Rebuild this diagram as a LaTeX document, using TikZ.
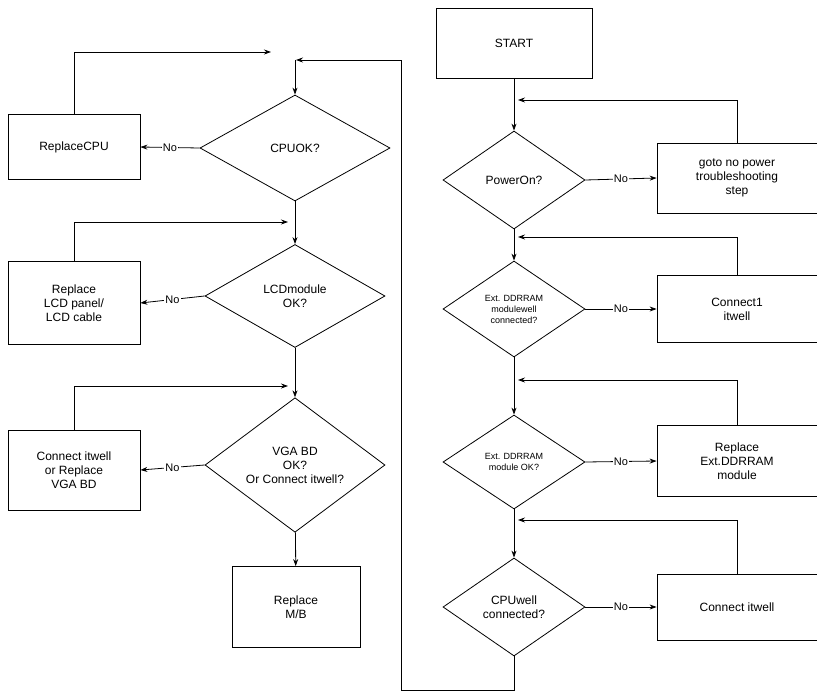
\documentclass[tikz,border=0pt]{standalone}
\usepackage{fontspec}
\setmainfont{Liberation Sans}
\usetikzlibrary{shapes.geometric,arrows.meta}
\begin{document}
\begin{tikzpicture}[x=1pt,y=-1pt,
 box/.style={draw,line width=0.8pt,align=center,font=\fontsize{12}{14}\selectfont,inner sep=0pt},
 dia/.style={draw,diamond,line width=0.8pt,align=center,font=\fontsize{12}{14}\selectfont,inner sep=0pt},
 sdia/.style={dia,font=\fontsize{9}{11}\selectfont},
 ar/.style={line width=0.8pt,-{Stealth[length=7pt,width=5pt]}},
 ln/.style={line width=0.8pt},
 no/.style={font=\fontsize{11}{13}\selectfont,inner sep=1pt,fill=white}]
\useasboundingbox (0,0) rectangle (817,693);
% right column
\node[box,minimum width=156pt,minimum height=70pt] (start) at (514,43) {START};
\node[dia,minimum width=142pt,minimum height=98pt] (d1) at (514,180) {PowerOn?};
\node[box,minimum width=160pt,minimum height=70pt] (b1) at (737,178) {goto no power\\troubleshooting\\step};
\node[sdia,minimum width=142pt,minimum height=96pt] (d2) at (514,309) {Ext. DDRRAM\\modulewell\\connected?};
\node[box,minimum width=160pt,minimum height=67pt] (b2) at (737,309) {Connect1\\itwell};
\node[sdia,minimum width=142pt,minimum height=94pt] (d3) at (514,462) {Ext. DDRRAM\\module OK?};
\node[box,minimum width=160pt,minimum height=71pt] (b3) at (737,461) {Replace\\Ext.DDRRAM\\module};
\node[dia,minimum width=142pt,minimum height=98pt] (d4) at (514,607) {CPUwell\\connected?};
\node[box,minimum width=160pt,minimum height=66pt] (b4) at (737,607) {Connect itwell};
\draw[ar] (start) -- (d1);
\draw[ar] (d1) -- (d2);
\draw[ar] (d2) -- (d3);
\draw[ar] (d3) -- (d4);
\foreach \d/\b in {d1/b1,d2/b2,d3/b3,d4/b4}{
 \draw[ar] (\d.east) -- node[no]{No} (\b.west);}
\coordinate (r1) at (514,100); \coordinate (r2) at (514,237);
\coordinate (r3) at (514,380); \coordinate (r4) at (514,520);
\draw[ar] (b1.north) |- ([xshift=4pt]r1);
\draw[ar] (b2.north) |- ([xshift=4pt]r2);
\draw[ar] (b3.north) |- ([xshift=4pt]r3);
\draw[ar] (b4.north) |- ([xshift=4pt]r4);
% left column
\node[dia,minimum width=190pt,minimum height=106pt] (c1) at (295,148) {CPUOK?};
\node[box,minimum width=132pt,minimum height=65pt] (a1) at (74,147) {ReplaceCPU};
\node[dia,minimum width=180pt,minimum height=103pt] (c2) at (295,296) {LCDmodule\\OK?};
\node[box,minimum width=132pt,minimum height=83pt] (a2) at (74,303) {Replace\\LCD panel/\\LCD cable};
\node[dia,minimum width=180pt,minimum height=108pt] (c3) at (295,465) {VGA BD\\OK?\\Or Connect itwell?};
\node[box,minimum width=132pt,minimum height=80pt] (a3) at (74,470) {Connect itwell\\or Replace\\VGA BD};
\node[box,minimum width=128pt,minimum height=81pt] (mb) at (296,607) {Replace\\M/B};
\coordinate (top) at (295,60);
\draw[ar] (d4.south) -- (514,690) -- (401,690) -- (401,60) -- ([xshift=1pt]top);
\draw[ar] (top) -- (c1.north);
\draw[ar] (c1) -- (c2);
\draw[ar] (c2) -- (c3);
\draw[ar] (c3) -- (mb);
\foreach \c/\a in {c1/a1,c2/a2,c3/a3}{
 \draw[ar] (\c.west) -- node[no]{No} (\a.east);}
\draw[ar] (a1.north) |- (271,52);
\draw[ar] (a2.north) |- (288,222);
\draw[ar] (a3.north) |- (288,386);
\end{tikzpicture}
\end{document}
